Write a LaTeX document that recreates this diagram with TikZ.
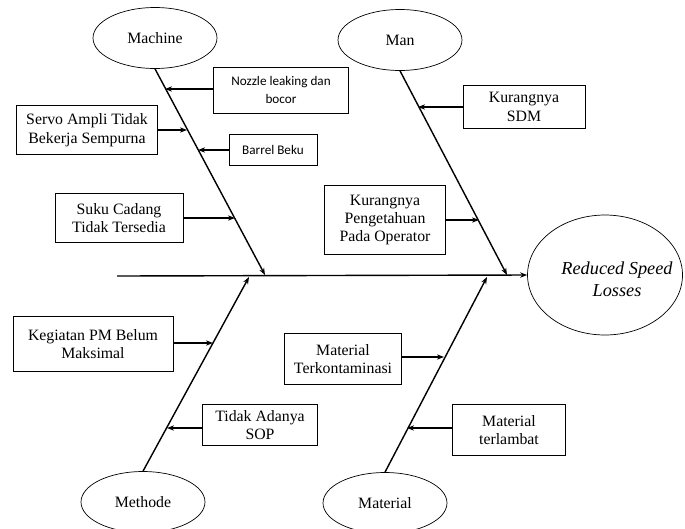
\documentclass[tikz,border=0pt]{standalone}
\usepackage{fontspec}
\setmainfont{Liberation Serif}
\newfontfamily\calibfont{Carlito}
\usetikzlibrary{shapes.geometric, arrows.meta}

\begin{document}
\begin{tikzpicture}[x=0.02cm, y=-0.02cm,
cause/.style={rectangle, draw=black, thin, align=center, inner sep=1pt, font=\fontsize{9}{10.5}\selectfont},
sanscause/.style={cause, font=\calibfont\fontsize{7.5}{10}\selectfont},
group/.style={ellipse, draw=black, thin, inner sep=0pt, minimum width=2.48cm, minimum height=1.22cm, font=\fontsize{9}{11}\selectfont},
bone/.style={line width=0.8pt, -{Stealth[length=4pt, width=3pt]}},
twig/.style={line width=0.7pt, -{Stealth[length=4pt, width=3pt]}}
]
\useasboundingbox (0,0) rectangle (685,528);
%Nodes
\node[group]      (machine)   at (155,38)     {Machine};
\node[group]      (man)       at (400,40)     {Man};
\node[group]      (methode)   at (143,502)    {Methode};
\node[group]      (material)  at (385,503)    {Material};
\node[ellipse, draw=black, thin, inner sep=0pt, minimum width=3.1cm, minimum height=2.4cm,
      label={[align=center, font=\itshape\fontsize{10.4}{12.5}\selectfont, xshift=0.24cm, yshift=-0.08cm]center:Reduced Speed\\Losses}]
                  (losses)    at (605,275)    {};

\node[sanscause, minimum width=2.7cm, minimum height=0.92cm]   (nozzle)  at (281,90)    {Nozzle leaking dan\\bocor};
\node[cause, minimum width=2.82cm, minimum height=0.98cm]      (servo)   at (87,130)    {Servo Ampli Tidak\\Bekerja Sempurna};
\node[sanscause, minimum width=1.76cm, minimum height=0.62cm]  (barrel)  at (273,150)   {Barrel Beku};
\node[cause, minimum width=2.56cm, minimum height=0.98cm]      (suku)    at (119,218)   {Suku Cadang\\Tidak Tersedia};
\node[cause, minimum width=2.44cm, minimum height=0.86cm]      (sdm)     at (524,107)   {Kurangnya\\SDM};
\node[cause, minimum width=2.42cm, minimum height=1.38cm]      (tahu)    at (385,220)   {Kurangnya\\Pengetahuan\\Pada Operator};
\node[cause, minimum width=3.2cm, minimum height=1.1cm]        (pm)      at (93,344)    {Kegiatan PM Belum\\Maksimal};
\node[cause, minimum width=2.3cm, minimum height=0.82cm]       (sop)     at (260,425)   {Tidak Adanya\\SOP};
\node[cause, minimum width=2.34cm, minimum height=1.02cm]      (kontam)  at (343,359)   {Material\\Terkontaminasi};
\node[cause, minimum width=2.26cm, minimum height=1.02cm]      (lambat)  at (509,430)   {Material\\terlambat};

%Points on the bones
\coordinate (tail)  at (117,276);
\coordinate (mhead) at (265,275);
\coordinate (nhead) at (507,275);
\coordinate (thead) at (249,277);
\coordinate (lhead) at (487,277);
\coordinate (m1) at (165,89);
\coordinate (m2) at (187,130);
\coordinate (m3) at (198,150);
\coordinate (m4) at (235,218);
\coordinate (n1) at (418,107);
\coordinate (n2) at (479,220);
\coordinate (t1) at (213,343);
\coordinate (t2) at (167,428);
\coordinate (l1) at (444,357);
\coordinate (l2) at (407,428);

%Lines
\draw[bone] (tail) -- (losses.west);
\draw[bone] (machine.south) -- (mhead);
\draw[bone] (man.south) -- (nhead);
\draw[bone] (methode.north) -- (thead);
\draw[bone] (material.north) -- (lhead);

\draw[twig] (nozzle.west |- m1) -- (m1);
\draw[twig] (servo.east |- m2) -- (m2);
\draw[twig] (barrel.west |- m3) -- (m3);
\draw[twig] (suku.east |- m4) -- (m4);
\draw[twig] (sdm.west |- n1) -- (n1);
\draw[twig] (tahu.east |- n2) -- (n2);
\draw[twig] (pm.east |- t1) -- (t1);
\draw[twig] (sop.west |- t2) -- (t2);
\draw[twig] (kontam.east |- l1) -- (l1);
\draw[twig] (lambat.west |- l2) -- (l2);
\end{tikzpicture}
\end{document}
